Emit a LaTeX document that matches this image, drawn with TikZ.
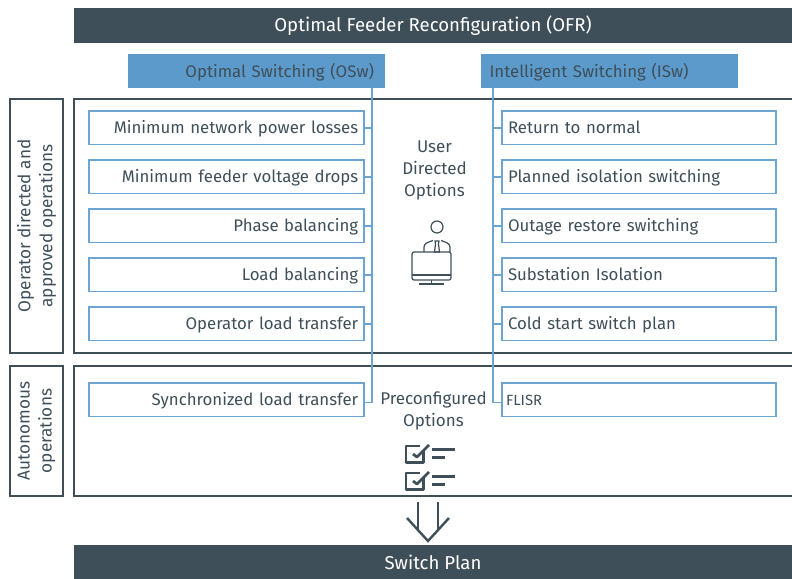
\documentclass[tikz,border=0pt]{standalone}
\usepackage{fontspec}
\setmainfont{Fira Sans}
\usepackage{tikz}

\definecolor{slate}{HTML}{3F4F59}
\definecolor{skyblue}{HTML}{5B9ACA}
\definecolor{itemblue}{HTML}{6CA4D2}
\tikzset{
  every node/.style={outer sep=0pt},
  bar/.style={fill=slate, text=white, minimum width=718pt, minimum height=35pt, inner sep=0pt, anchor=north west, font=\fontsize{18.6}{22}\selectfont},
  head/.style={fill=skyblue, text=slate, minimum width=257pt, minimum height=34pt, inner ysep=0pt, anchor=north west, text height=14.5pt, text depth=1pt, font=\fontsize{16.8}{20}\selectfont},
  sidebox/.style={draw=slate, line width=1.2pt, rotate=90, minimum height=53pt, inner sep=0pt, align=center, text=slate, font=\fontsize{17.2}{22}\selectfont},
  itemleft/.style={draw=itemblue, line width=1.5pt, text=slate, text width=263.5pt, minimum height=33.6pt, inner xsep=5.7pt, inner ysep=0pt, align=right, anchor=north west, text height=13pt, text depth=1.5pt, font=\fontsize{16.8}{20}\selectfont},
  itemright/.style={itemleft, align=left, inner xsep=6pt, text width=262pt},
  busline/.style={draw=itemblue, line width=1.5pt},
  frameline/.style={draw=slate, line width=1.2pt},
  icon/.style={draw=slate, line width=1.2pt},
  tick/.style={draw=slate, line width=2.4pt},
  boxtick/.style={draw=slate, line width=2.8pt, line join=round},
  note/.style={text=slate, align=center, font=\fontsize{17}{22}\selectfont},
}

\begin{document}
\begin{tikzpicture}[x=1pt, y=-1pt]
  \useasboundingbox (0,0) rectangle (792,578);

  \node [bar] (ofr) at (74,8) {Optimal Feeder Reconfiguration (OFR)};
  \node [bar] (plan) at (74,545) {Switch Plan};

  \draw [frameline] (792,99) -- (74,99) -- (74,353) -- (792,353);
  \draw [frameline] (792,366) -- (74,366) -- (74,496) -- (792,496);
  \node [sidebox, minimum width=254pt] (opside) at (36.5,226) {Operator directed and\\approved operations};
  \node [sidebox, minimum width=130pt] (autoside) at (36.5,431) {Autonomous\\operations};

  \node [head, text width=235pt, inner xsep=11pt, align=right] (osw) at (128,54) {Optimal Switching (OSw)};
  \node [head, text width=248pt, inner xsep=4.5pt, align=left] (isw) at (481,54) {\hspace*{4pt}Intelligent Switching (ISw)};

  \node [itemleft] (a1) at (89,111) {Minimum network power losses};
  \node [itemleft] (a2) at (89,160) {Minimum feeder voltage drops};
  \node [itemleft] (a3) at (89,209) {Phase balancing};
  \node [itemleft] (a4) at (89,258) {Load balancing};
  \node [itemleft] (a5) at (89,307) {Operator load transfer};
  \node [itemleft] (a6) at (89,383) {Synchronized load transfer};

  \node [itemright] (b1) at (502,111) {Return to normal};
  \node [itemright] (b2) at (502,160) {Planned isolation switching};
  \node [itemright] (b3) at (502,209) {Outage restore switching};
  \node [itemright] (b4) at (502,258) {Substation Isolation};
  \node [itemright] (b5) at (502,307) {Cold start switch plan};
  \node [itemright] (b6) at (502,383) {\hspace*{-2pt}\fontsize{14.8}{20}\selectfont FLISR};

  % bus lines
  \coordinate (oswtop) at (372,88);
  \coordinate (iswtop) at (493,88);
  \draw [busline] (oswtop) |- ([yshift=-2.5pt]a6.east);
  \draw [busline] (iswtop) |- ([yshift=-2.5pt]b6.west);
  \draw [busline] (a1.east) -- (a1.east -| oswtop);
  \draw [busline] (a2.east) -- (a2.east -| oswtop);
  \draw [busline] (a3.east) -- (a3.east -| oswtop);
  \draw [busline] (a4.east) -- (a4.east -| oswtop);
  \draw [busline] (a5.east) -- (a5.east -| oswtop);
  \draw [busline] (b1.west) -- (b1.west -| iswtop);
  \draw [busline] (b2.west) -- (b2.west -| iswtop);
  \draw [busline] (b3.west) -- (b3.west -| iswtop);
  \draw [busline] (b4.west) -- (b4.west -| iswtop);
  \draw [busline] (b5.west) -- (b5.west -| iswtop);

  \node [note] (user) at (434.5,170) {User\\Directed\\Options};
  \node [note] (preconf) at (433.5,411) {Preconfigured\\Options};

  % person at desk
  \draw [icon] (437,227) circle (6);
  \draw [icon] (424,252) -- (424,247) .. controls (424,243) and (429,242) .. (433,240.5);
  \draw [icon] (450,252) -- (450,247) .. controls (450,243) and (445,242) .. (441,240.5);
  \draw [icon] (435,241) -- (439,241) -- (438.5,244) -- (439.5,252) -- (434.5,252) -- (435.5,244) -- cycle;
  \draw [icon, rounded corners=2pt] (412,252) rectangle (451,280);
  \draw [icon] (412,275) -- (451,275);
  \draw [icon] (431.5,280) -- (431.5,284);
  \draw [icon] (419,284) -- (444,284);

  % checklists
  \draw [boxtick] (423.5,450) -- (423.5,462.5) -- (406,462.5) -- (406,446) -- (420,446);
  \draw [boxtick] (413,454) -- (417,457) -- (429,445);
  \draw [boxtick] (432,449.5) -- (455,449.5);
  \draw [boxtick] (432,457.5) -- (445,457.5);
  \draw [boxtick] (423.5,477) -- (423.5,489.5) -- (406,489.5) -- (406,473) -- (420,473);
  \draw [boxtick] (413,481) -- (417,484) -- (429,472);
  \draw [boxtick] (432,476.5) -- (455,476.5);
  \draw [boxtick] (432,484.5) -- (445,484.5);

  % arrow into switch plan
  \coordinate (tip) at (428,541);
  \draw [tick] (418,502) -- (418,531);
  \draw [tick] (438,502) -- (438,531);
  \draw [tick] (407,518) -- (tip) -- (449,518);
\end{tikzpicture}
\end{document}
